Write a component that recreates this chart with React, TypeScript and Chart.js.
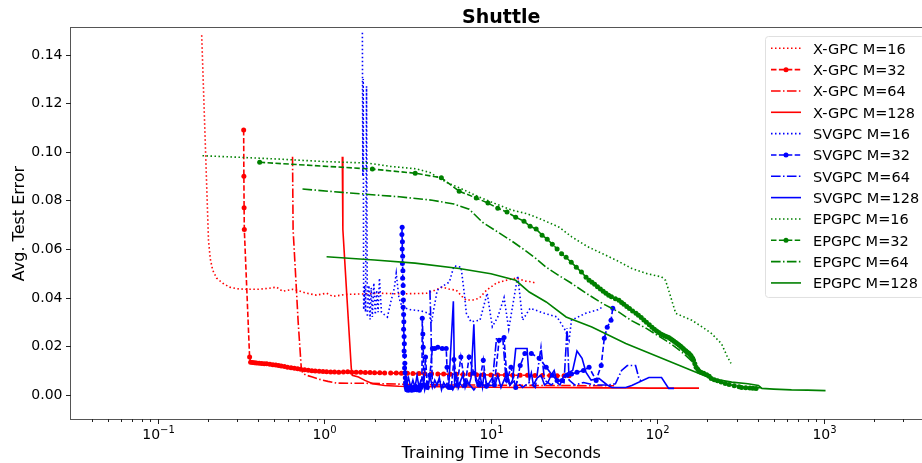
import React, { useEffect, useRef } from "react";
import { Chart, registerables } from "chart.js";

Chart.register(...registerables);

// ---------------- text & axes ----------------
const chartTitle = "Shuttle";
const xAxisTitle = "Training Time in Seconds";
const yAxisTitle = "Avg. Test Error";
const xRange = [0.03, 4440];
const yRange = [-0.01, 0.151];
const yTicks = [0, 0.02, 0.04, 0.06, 0.08, 0.1, 0.12, 0.14];
const xMajorExponents = [-1, 0, 1, 2, 3];

// ---------------- data: [seconds, error] ----------------
const xgpc16 = [
  [0.183, 0.148], [0.192, 0.105], [0.201, 0.0636], [0.206, 0.056], [0.213, 0.0513], [0.225, 0.048],
  [0.245, 0.0459], [0.269, 0.0443], [0.3, 0.0436], [0.34, 0.0434], [0.4, 0.0434], [0.46, 0.0438],
  [0.515, 0.0443], [0.56, 0.0426], [0.6, 0.043], [0.643, 0.0434], [0.7, 0.0428], [0.78, 0.0418],
  [0.895, 0.041], [1.03, 0.0418], [1.12, 0.0405], [1.35, 0.0413], [1.7, 0.0415], [2.14, 0.0418],
  [2.6, 0.0416], [3.2, 0.0416], [3.8, 0.0417], [4.1, 0.0418], [4.6, 0.043], [5.1, 0.0443],
  [5.6, 0.0435], [6.2, 0.043], [6.7, 0.0405], [7.1, 0.039], [7.8, 0.039], [8.5, 0.0397],
  [9.4, 0.043], [10.8, 0.046], [12.5, 0.0472], [14.2, 0.048], [16.0, 0.0468], [17.5, 0.0465], [18.8, 0.0458],
];
const xgpc32 = [
  [0.327, 0.109], [0.328, 0.09], [0.329, 0.077], [0.33, 0.068], [0.355, 0.0155], [0.36, 0.0134],
  [0.37, 0.0133], [0.38, 0.0132], [0.39, 0.0131], [0.405, 0.013], [0.42, 0.0129], [0.435, 0.0128],
  [0.45, 0.0127], [0.47, 0.0125], [0.49, 0.0123], [0.51, 0.0122], [0.53, 0.012], [0.55, 0.0118],
  [0.575, 0.0116], [0.6, 0.0113], [0.63, 0.0111], [0.66, 0.0109], [0.69, 0.0107], [0.72, 0.0105],
  [0.76, 0.0103], [0.8, 0.0101], [0.84, 0.0099], [0.88, 0.0098], [0.93, 0.0097], [0.98, 0.0096],
  [1.03, 0.0095], [1.09, 0.0094], [1.15, 0.0094], [1.22, 0.0093], [1.3, 0.0094], [1.38, 0.0095],
  [1.46, 0.0093], [1.55, 0.0092], [1.65, 0.0092], [1.76, 0.0091], [1.88, 0.0091], [2.0, 0.009],
  [2.15, 0.009], [2.3, 0.0089], [2.5, 0.0089], [2.7, 0.0089], [2.9, 0.0088], [3.15, 0.0088],
  [3.4, 0.0087], [3.7, 0.0087], [4.0, 0.0086], [4.4, 0.0086], [4.8, 0.0085], [5.2, 0.0085],
  [5.7, 0.0084], [6.2, 0.0084], [6.8, 0.0083], [7.5, 0.0083], [8.2, 0.0082], [9.0, 0.0082],
  [10, 0.0081], [11, 0.0081], [12.2, 0.0081], [13.5, 0.008], [15, 0.008], [16.6, 0.008],
  [18.4, 0.0079], [20.4, 0.0079], [22.6, 0.0079], [25, 0.0078], [27.5, 0.0078], [29.5, 0.0078],
];
const xgpc64 = [
  [0.643, 0.098], [0.648, 0.068], [0.67, 0.05], [0.695, 0.03], [0.725, 0.0114], [0.74, 0.0088],
  [0.78, 0.008], [0.847, 0.0073], [0.95, 0.0062], [1.05, 0.0055], [1.18, 0.0048], [1.4, 0.0047],
  [1.79, 0.0047], [2.3, 0.0045], [3.0, 0.0043], [4.0, 0.0041], [5.5, 0.004], [7.5, 0.004],
  [10, 0.0039], [14, 0.0039], [20, 0.0038], [28, 0.0038], [40, 0.0037], [55, 0.0037],
];
const xgpc128 = [
  [1.28, 0.098], [1.29, 0.068], [1.365, 0.04], [1.45, 0.0108], [1.47, 0.008], [1.6, 0.0073],
  [1.75, 0.0059], [1.95, 0.0045], [2.3, 0.0038], [2.8, 0.0035], [3.5, 0.0034], [5, 0.0033],
  [7, 0.0032], [10, 0.0031], [15, 0.003], [22, 0.003], [32, 0.0029], [45, 0.0028],
  [65, 0.0028], [90, 0.0027], [125, 0.0027], [178, 0.0027],
];
const svgpc16 = [
  [1.69, 0.149], [1.7, 0.09], [1.71, 0.13], [1.72, 0.035], [1.745, 0.045], [1.765, 0.034],
  [1.79, 0.127], [1.81, 0.032],
  [1.85, 0.045], [1.88, 0.031], [1.91, 0.044], [1.94, 0.032], [1.98, 0.046], [2.02, 0.033], [2.06, 0.043],
  [2.1, 0.034], [2.14, 0.048], [2.2, 0.034], [2.29, 0.033], [2.39, 0.032], [2.5, 0.038], [2.63, 0.044],
  [2.7, 0.05], [2.8, 0.04], [2.93, 0.036], [3.3, 0.035], [3.8, 0.0345], [4.26, 0.0335], [4.38, 0.0294],
  [4.76, 0.043], [5.03, 0.0443], [5.63, 0.0464], [6.0, 0.053], [6.62, 0.0525], [6.92, 0.0418],
  [7.12, 0.0335], [7.6, 0.03], [8.6, 0.0307], [9.5, 0.0418], [10.2, 0.028], [11.0, 0.032], [12.0, 0.04],
  [12.8, 0.027], [14.5, 0.049], [15.5, 0.0307], [17.2, 0.0356], [21, 0.0335], [25, 0.032], [28, 0.0265],
  [29.5, 0.0224], [30.5, 0.0307], [37, 0.0335], [44, 0.035], [46.5, 0.036],
];
const svgpc32 = [
  [2.93, 0.069], [2.92, 0.066], [2.94, 0.063], [2.93, 0.06], [2.95, 0.057], [2.94, 0.054], [2.96, 0.051],
  [2.95, 0.048], [2.97, 0.045], [2.96, 0.042], [2.98, 0.039], [2.97, 0.036], [2.99, 0.033], [3.0, 0.03],
  [2.99, 0.027], [3.01, 0.024], [3.02, 0.021], [3.01, 0.018], [3.03, 0.016], [3.04, 0.013], [3.03, 0.011],
  [3.05, 0.009], [3.06, 0.007], [3.07, 0.005], [3.08, 0.004], [3.1, 0.003], [3.12, 0.002], [3.15, 0.0025],
  [3.18, 0.0018], [3.22, 0.003], [3.26, 0.002], [3.3, 0.0028], [3.35, 0.0018], [3.4, 0.003], [3.46, 0.002],
  [3.52, 0.0035], [3.58, 0.002], [3.65, 0.003], [3.72, 0.0018], [3.8, 0.003], [3.85, 0.004], [3.87, 0.0315],
  [3.9, 0.025], [3.92, 0.0195], [3.96, 0.004], [4.05, 0.0155], [4.15, 0.003], [4.3, 0.008], [4.45, 0.019],
  [4.6, 0.019], [4.8, 0.0195], [5.1, 0.019], [5.39, 0.019], [5.45, 0.0113], [5.6, 0.003], [5.78, 0.003],
  [6.0, 0.0145], [6.27, 0.004], [6.6, 0.0155], [7.0, 0.004], [7.4, 0.0155], [7.9, 0.0088], [8.5, 0.004],
  [9.0, 0.0142], [9.4, 0.0035], [10.5, 0.004], [11.2, 0.0224], [12.0, 0.0236], [12.5, 0.006],
  [13.2, 0.0113], [14.1, 0.003], [15.0, 0.012], [16.0, 0.017], [17.5, 0.017], [19.5, 0.015],
  [21.5, 0.0113], [23.4, 0.008], [25.0, 0.0059], [26.8, 0.0059], [28.7, 0.008], [30.5, 0.0085],
  [32.9, 0.0092], [36.0, 0.01], [38.9, 0.0113], [42.9, 0.0059], [46, 0.012], [48, 0.0232], [50, 0.0278],
  [52.7, 0.0307], [54, 0.0356],
];
const svgpc64 = [
  [4.3, 0.043], [4.36, 0.03], [4.4, 0.015], [4.45, 0.005], [4.6, 0.003], [4.9, 0.006], [5.2, 0.003],
  [5.5, 0.005], [5.9, 0.002], [6.3, 0.006], [6.8, 0.003], [7.3, 0.005], [7.9, 0.002], [8.6, 0.005],
  [9.4, 0.003], [10.2, 0.005], [10.8, 0.023], [11.8, 0.023], [12.3, 0.007], [13.0, 0.004], [14.0, 0.006],
  [15.5, 0.003], [17.0, 0.005], [18.5, 0.003], [20, 0.0195], [21, 0.006], [23, 0.004], [25, 0.006],
  [27.5, 0.005], [28.7, 0.0274], [29.5, 0.006], [32, 0.004], [36, 0.005], [42, 0.004], [50, 0.004],
  [56, 0.0045], [61, 0.01], [66, 0.012], [74, 0.012], [77.6, 0.0067], [80, 0.0055],
];
const svgpc128 = [
  [3.05, 0.012], [3.1, 0.004], [3.2, 0.007], [3.3, 0.003], [3.4, 0.006], [3.5, 0.003], [3.6, 0.008],
  [3.7, 0.003], [3.8, 0.006], [3.9, 0.007], [4.0, 0.002], [4.1, 0.005], [4.2, 0.003], [4.3, 0.008],
  [4.45, 0.003], [4.6, 0.006], [4.75, 0.004], [4.9, 0.007], [5.05, 0.002], [5.2, 0.005], [5.4, 0.003],
  [5.6, 0.005], [5.95, 0.0385], [6.05, 0.005], [6.2, 0.008], [6.4, 0.003], [6.6, 0.006], [6.8, 0.008],
  [7.0, 0.003], [7.2, 0.006], [7.4, 0.004], [7.6, 0.007], [7.9, 0.029], [8.1, 0.006], [8.3, 0.004],
  [8.6, 0.008], [8.9, 0.003], [9.1, 0.009], [9.4, 0.005], [9.6, 0.004], [10.2, 0.007], [10.6, 0.004],
  [11, 0.008], [11.5, 0.003], [12, 0.006], [12.5, 0.009], [13, 0.004], [13.5, 0.006], [14.1, 0.019],
  [16.5, 0.019], [17, 0.006], [17.5, 0.009], [18, 0.004], [19, 0.007], [20, 0.008], [21, 0.004],
  [22, 0.005], [23, 0.008], [24, 0.01], [25, 0.005], [26, 0.004], [27.5, 0.008], [29, 0.009],
  [31, 0.01], [32.9, 0.018], [35.3, 0.015], [37.3, 0.0092], [40, 0.006], [44.6, 0.0067], [50, 0.004],
  [53.4, 0.003], [64.6, 0.003], [70.2, 0.0038], [89, 0.0071], [106, 0.0071], [117, 0.0026], [126, 0.0026],
];
const epgpc16 = [
  [0.185, 0.0984], [0.3, 0.0978], [0.54, 0.097], [1.0, 0.096], [1.81, 0.0954], [2.5, 0.094],
  [3.56, 0.093], [4.3, 0.0915], [5.4, 0.0875], [6.8, 0.0845], [8.5, 0.0814], [10.5, 0.0788],
  [13.4, 0.076], [16.5, 0.0745], [19.5, 0.0726], [25.7, 0.069], [30.6, 0.065], [38, 0.061],
  [49.1, 0.0574], [58, 0.055], [70.2, 0.052], [85, 0.05], [106, 0.0485], [112, 0.0471],
  [117, 0.043], [129, 0.0335], [145, 0.032], [161, 0.0307], [185, 0.028], [211, 0.0253],
  [243, 0.021], [262, 0.016], [277, 0.0129],
];
const epgpc32 = [
  [0.408, 0.0957], [1.94, 0.0929], [3.51, 0.0912], [5.04, 0.0893], [6.45, 0.0838], [8.17, 0.081],
  [9.6, 0.0789], [11.0, 0.0768], [12.5, 0.0752], [14.1, 0.0731], [15.8, 0.0714], [17.2, 0.0694],
  [18.7, 0.0682], [20.3, 0.0657], [21.8, 0.064], [23.4, 0.062], [25.0, 0.06], [26.6, 0.058],
  [28.3, 0.0566], [30.4, 0.0545], [32.6, 0.0525], [35, 0.0505], [37.3, 0.0484], [38.9, 0.0471],
  [40.5, 0.0463], [42, 0.0455], [43.7, 0.0445], [45.5, 0.0435], [47.3, 0.0426], [49.1, 0.0418],
  [51, 0.041], [53, 0.0403], [56, 0.0395], [58.8, 0.0389], [61, 0.038], [63, 0.0372], [65.5, 0.0363],
  [68, 0.0355], [71, 0.0345], [74.4, 0.0335], [77, 0.0327], [80, 0.0318], [83, 0.0308], [86, 0.0298],
  [89.5, 0.0288], [92.9, 0.0278], [96, 0.027], [99, 0.0262], [102, 0.0256], [105, 0.025], [108, 0.0246],
  [111, 0.0242], [114, 0.0239], [117, 0.0236], [120, 0.023], [123, 0.0225], [126, 0.022], [129, 0.0215],
  [132, 0.021], [135, 0.0205], [138, 0.02], [140, 0.0195], [143, 0.019], [145, 0.0185], [148, 0.0181],
  [150, 0.0177], [153, 0.0173], [155, 0.017], [158, 0.0164], [160, 0.0158], [163, 0.015], [165, 0.0142],
  [168, 0.0128], [171, 0.0113], [175, 0.0105], [178, 0.0097], [183, 0.0092], [190, 0.0088],
  [198, 0.0082], [205, 0.0076], [211, 0.0067], [220, 0.0062], [230, 0.0057], [242, 0.0052],
  [256, 0.0046], [270, 0.0042], [290, 0.0037], [310, 0.0033], [321, 0.003], [340, 0.0029],
  [360, 0.0028], [375, 0.0027], [392, 0.0026],
];
const epgpc64 = [
  [0.738, 0.0847], [1.28, 0.0833], [2.82, 0.0815], [4.44, 0.0801], [6.0, 0.0785], [7.4, 0.0764],
  [8.9, 0.071], [11, 0.067], [13.4, 0.0632], [16, 0.0595], [18.7, 0.056], [21.5, 0.0525],
  [25.7, 0.049], [30, 0.0462], [37.3, 0.0418], [47, 0.0375], [58.8, 0.034], [70, 0.0305],
  [85.5, 0.0274], [100, 0.0245], [117, 0.0216], [132, 0.019], [148, 0.0162], [160, 0.014],
  [171, 0.0113], [190, 0.009], [211, 0.0067], [240, 0.005], [280, 0.0038], [320, 0.0033],
  [355, 0.003], [390, 0.0029], [420, 0.0029],
];
const epgpc128 = [
  [1.03, 0.0568], [2.0, 0.0555], [3.5, 0.0542], [6.45, 0.052], [10, 0.0498], [14.1, 0.0471],
  [17, 0.0423], [21.5, 0.0382], [28.3, 0.032], [40.4, 0.0279], [64.6, 0.0211], [102, 0.0155],
  [161, 0.01], [211, 0.0067], [280, 0.0052], [350, 0.0045], [405, 0.0038], [425, 0.0026],
  [500, 0.0023], [640, 0.002], [800, 0.0019], [1025, 0.0017],
];

const seriesLabels = [
  "X-GPC M=16", "X-GPC M=32", "X-GPC M=64", "X-GPC M=128",
  "SVGPC M=16", "SVGPC M=32", "SVGPC M=64", "SVGPC M=128",
  "EPGPC M=16", "EPGPC M=32", "EPGPC M=64", "EPGPC M=128",
];
const seriesData = [
  xgpc16, xgpc32, xgpc64, xgpc128,
  svgpc16, svgpc32, svgpc64, svgpc128,
  epgpc16, epgpc32, epgpc64, epgpc128,
];

// ---------------- styles ----------------
const familyColors = ["#ff0000", "#0000ff", "#008000"];
const dashPatterns: Record<string, number[]> = {
  dotted: [1.5, 2.5],
  dashed: [5.5, 2.4],
  dashdot: [9.6, 2.4, 1.5, 2.4],
  solid: [],
};
const variantStyles = [
  { dash: "dotted", marker: false },
  { dash: "dashed", marker: true },
  { dash: "dashdot", marker: false },
  { dash: "solid", marker: false },
];
const FONT = "'DejaVu Sans', 'Liberation Sans', sans-serif";
const LINE_W = 1.6;
const MARKER_R = 2.5;

function styleOf(i: number) {
  return { color: familyColors[Math.floor(i / 4)], ...variantStyles[i % 4] };
}

const decorations = {
  id: "decorations",
  afterDraw(chart: any) {
    const { ctx, chartArea: a, scales } = chart;
    const xs = scales.x;
    const ys = scales.y;
    ctx.save();

    // spines
    ctx.strokeStyle = "#555";
    ctx.lineWidth = 1;
    ctx.setLineDash([]);
    ctx.strokeRect(Math.round(a.left) - 0.5, Math.round(a.top) - 0.5, a.right - a.left + 1, a.bottom - a.top + 1);

    ctx.strokeStyle = "#222";
    ctx.fillStyle = "#000";
    // y ticks + labels
    ctx.font = `14px ${FONT}`;
    ctx.textAlign = "right";
    ctx.textBaseline = "middle";
    for (const v of yTicks) {
      const py = Math.round(ys.getPixelForValue(v)) + 0.5;
      ctx.beginPath();
      ctx.moveTo(a.left - 5, py);
      ctx.lineTo(a.left, py);
      ctx.stroke();
      ctx.fillText(v.toFixed(2), a.left - 8.5, py);
    }

    // x minor ticks
    const minors: number[] = [];
    for (let e = -2; e <= 3; e++) {
      for (let m = 2; m <= 9; m++) {
        const v = m * Math.pow(10, e);
        if (v > xRange[0] && v < xRange[1]) minors.push(v);
      }
    }
    for (const v of minors) {
      const px = Math.round(xs.getPixelForValue(v)) + 0.5;
      ctx.beginPath();
      ctx.moveTo(px, a.bottom);
      ctx.lineTo(px, a.bottom + 3);
      ctx.stroke();
    }
    // x major ticks + labels (10^k)
    for (const k of xMajorExponents) {
      const px = Math.round(xs.getPixelForValue(Math.pow(10, k))) + 0.5;
      ctx.beginPath();
      ctx.moveTo(px, a.bottom);
      ctx.lineTo(px, a.bottom + 5);
      ctx.stroke();
      const base = "10";
      const exp = k < 0 ? "\u2212" + Math.abs(k) : String(k);
      ctx.font = `14px ${FONT}`;
      const w1 = ctx.measureText(base).width;
      ctx.font = `10px ${FONT}`;
      const w2 = ctx.measureText(exp).width;
      const start = px - (w1 + w2) / 2;
      ctx.textAlign = "left";
      ctx.textBaseline = "alphabetic";
      ctx.font = `14px ${FONT}`;
      ctx.fillText(base, start, 438.5);
      ctx.font = `10px ${FONT}`;
      ctx.fillText(exp, start + w1, 432.5);
    }

    // titles
    const cx = (a.left + a.right) / 2;
    ctx.textAlign = "center";
    ctx.textBaseline = "alphabetic";
    ctx.font = `bold 19px ${FONT}`;
    ctx.fillText(chartTitle, cx, 23);
    ctx.font = `16px ${FONT}`;
    ctx.fillText(xAxisTitle, cx, 457.5);
    ctx.save();
    ctx.translate(24, (a.top + a.bottom) / 2);
    ctx.rotate(-Math.PI / 2);
    ctx.fillText(yAxisTitle, 0, 0);
    ctx.restore();

    // legend
    const lx = 765.5;
    const ly = 36.5;
    const lw = a.right - 7 - lx;
    const rowH = 21.33;
    const lh = rowH * seriesLabels.length + 5;
    ctx.save();
    ctx.beginPath();
    const r = 3;
    ctx.moveTo(lx + r, ly);
    ctx.lineTo(lx + lw - r, ly);
    ctx.quadraticCurveTo(lx + lw, ly, lx + lw, ly + r);
    ctx.lineTo(lx + lw, ly + lh - r);
    ctx.quadraticCurveTo(lx + lw, ly + lh, lx + lw - r, ly + lh);
    ctx.lineTo(lx + r, ly + lh);
    ctx.quadraticCurveTo(lx, ly + lh, lx, ly + lh - r);
    ctx.lineTo(lx, ly + r);
    ctx.quadraticCurveTo(lx, ly, lx + r, ly);
    ctx.closePath();
    ctx.fillStyle = "rgba(255,255,255,0.85)";
    ctx.fill();
    ctx.strokeStyle = "#e0e0e0";
    ctx.lineWidth = 1;
    ctx.stroke();
    ctx.restore();

    seriesLabels.forEach((label, i) => {
      const st = styleOf(i);
      const y = 48.3 + i * rowH;
      ctx.strokeStyle = st.color;
      ctx.lineWidth = LINE_W;
      ctx.setLineDash(dashPatterns[st.dash]);
      ctx.beginPath();
      ctx.moveTo(771, y);
      ctx.lineTo(801, y);
      ctx.stroke();
      ctx.setLineDash([]);
      if (st.marker) {
        ctx.fillStyle = st.color;
        ctx.beginPath();
        ctx.arc(786, y, MARKER_R, 0, Math.PI * 2);
        ctx.fill();
      }
      ctx.fillStyle = "#000";
      ctx.font = `14.5px ${FONT}`;
      ctx.textAlign = "left";
      ctx.textBaseline = "alphabetic";
      ctx.fillText(label, 813, y + 5.3);
    });

    ctx.restore();
  },
};

export default function App() {
  const ref = useRef<HTMLCanvasElement | null>(null);

  useEffect(() => {
    document.body.style.margin = "0";
    const canvas = ref.current;
    if (!canvas) return;
    const datasets = seriesData.map((pts, i) => {
      const st = styleOf(i);
      return {
        label: seriesLabels[i],
        data: pts.map(([x, y]) => ({ x, y })),
        borderColor: st.color,
        backgroundColor: st.color,
        borderWidth: LINE_W,
        borderDash: dashPatterns[st.dash],
        pointRadius: st.marker ? MARKER_R : 0,
        pointHoverRadius: 0,
        pointBorderWidth: 0,
        pointBackgroundColor: st.color,
        fill: false,
        tension: 0,
        order: seriesData.length - i,
      };
    });
    const chart = new Chart(canvas, {
      type: "line",
      data: { datasets } as any,
      options: {
        responsive: false,
        animation: false,
        devicePixelRatio: 1,
        events: [],
        layout: { padding: { left: 71, top: 28, right: 1, bottom: 44 } },
        scales: {
          x: { type: "logarithmic", min: xRange[0], max: xRange[1], display: false },
          y: { type: "linear", min: yRange[0], max: yRange[1], display: false },
        },
        plugins: {
          legend: { display: false },
          tooltip: { enabled: false },
          title: { display: false },
        },
      } as any,
      plugins: [decorations],
    });
    return () => chart.destroy();
  }, []);

  return (
    <div style={{ width: 922, height: 463, overflow: "hidden", background: "#fff" }}>
      <canvas ref={ref} width={934} height={463} style={{ display: "block" }} />
    </div>
  );
}
